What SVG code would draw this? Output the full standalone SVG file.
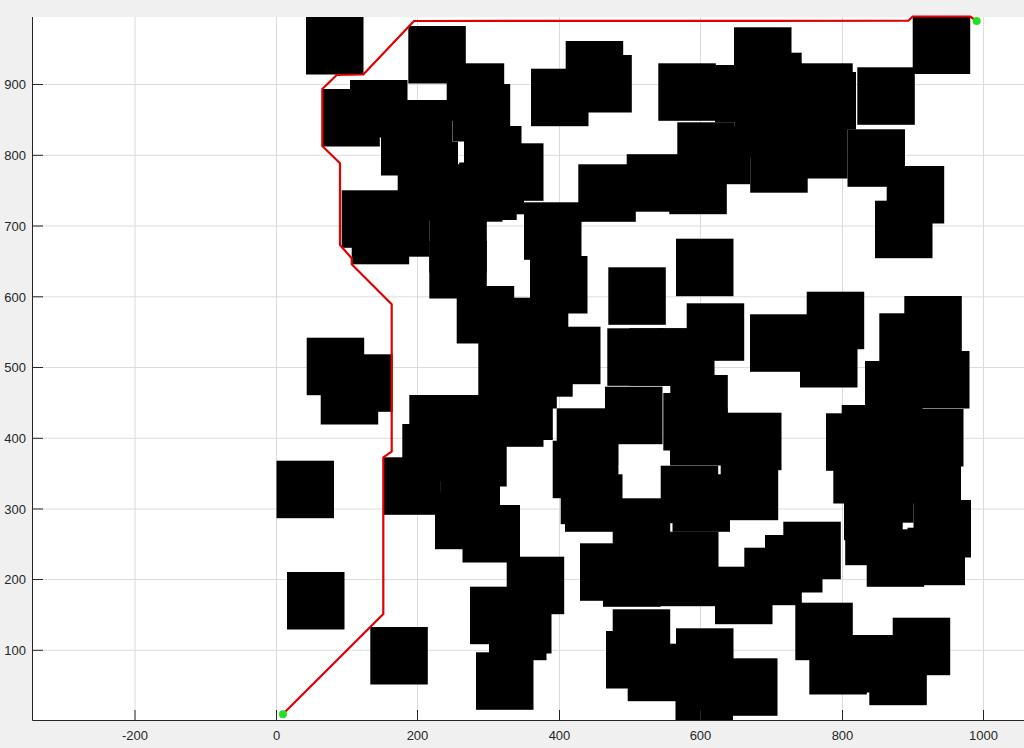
<svg xmlns="http://www.w3.org/2000/svg" width="1024" height="748" viewBox="0 0 1024 748">
<style>
.bg{fill:#f0f0f0}
.ax{fill:#ffffff}
.grid line{stroke:#dcdcdc;stroke-width:1}
.o rect{fill:#000000}
.tk line{stroke:#262626;stroke-width:1}
.lbl{font-family:"Liberation Sans",Arial,sans-serif;font-size:13px;fill:#262626}
.path{fill:none;stroke:#e00000;stroke-width:2.2;stroke-linejoin:round}
.pt{fill:#22e022}
</style>
<rect class="bg" x="0" y="0" width="1024" height="748"/>
<rect class="ax" x="33" y="17" width="991" height="703.5"/>
<g class="grid" id="grid">
<line x1="135" y1="17" x2="135" y2="720"/>
<line x1="276.5" y1="17" x2="276.5" y2="720"/>
<line x1="417.5" y1="17" x2="417.5" y2="720"/>
<line x1="559.5" y1="17" x2="559.5" y2="720"/>
<line x1="700.5" y1="17" x2="700.5" y2="720"/>
<line x1="842.5" y1="17" x2="842.5" y2="720"/>
<line x1="983.5" y1="17" x2="983.5" y2="720"/>
<line x1="33" y1="650.3" x2="1024" y2="650.3"/>
<line x1="33" y1="579.5" x2="1024" y2="579.5"/>
<line x1="33" y1="509" x2="1024" y2="509"/>
<line x1="33" y1="438.3" x2="1024" y2="438.3"/>
<line x1="33" y1="367.5" x2="1024" y2="367.5"/>
<line x1="33" y1="296.8" x2="1024" y2="296.8"/>
<line x1="33" y1="226" x2="1024" y2="226"/>
<line x1="33" y1="155.3" x2="1024" y2="155.3"/>
<line x1="33" y1="84.5" x2="1024" y2="84.5"/>
</g>
<g class="o" id="obstacles">
<rect x="306" y="17" width="57.5" height="57.5"/>
<rect x="408.3" y="26" width="57.5" height="57.5"/>
<rect x="350" y="80" width="57.5" height="57.5"/>
<rect x="322.3" y="89" width="57.5" height="57.5"/>
<rect x="446.7" y="63.3" width="57.5" height="57.5"/>
<rect x="452.7" y="84" width="57.5" height="57.5"/>
<rect x="464" y="126" width="57.5" height="57.5"/>
<rect x="486" y="143.3" width="57.5" height="57.5"/>
<rect x="395" y="100" width="57.5" height="57.5"/>
<rect x="381" y="118" width="57.5" height="57.5"/>
<rect x="400.5" y="141.7" width="57.5" height="57.5"/>
<rect x="397.7" y="163" width="57.5" height="57.5"/>
<rect x="445" y="164.2" width="57.5" height="57.5"/>
<rect x="459.2" y="162.5" width="57.5" height="57.5"/>
<rect x="466.5" y="156.8" width="57.5" height="57.5"/>
<rect x="341.7" y="190.3" width="57.5" height="57.5"/>
<rect x="351.7" y="206.8" width="57.5" height="57.5"/>
<rect x="371.8" y="199.2" width="57.5" height="57.5"/>
<rect x="429.3" y="215" width="57.5" height="57.5"/>
<rect x="429.3" y="241" width="57.5" height="57.5"/>
<rect x="524" y="202.3" width="57.5" height="57.5"/>
<rect x="530" y="256" width="57.5" height="57.5"/>
<rect x="456.7" y="286" width="57.5" height="57.5"/>
<rect x="510.8" y="297.7" width="57.5" height="57.5"/>
<rect x="478.3" y="337.7" width="57.5" height="57.5"/>
<rect x="515.2" y="339.2" width="57.5" height="57.5"/>
<rect x="499.3" y="351" width="57.5" height="57.5"/>
<rect x="495.3" y="382.5" width="57.5" height="57.5"/>
<rect x="486" y="389.3" width="57.5" height="57.5"/>
<rect x="480" y="387" width="57.5" height="57.5"/>
<rect x="409.3" y="395" width="57.5" height="57.5"/>
<rect x="422.5" y="395" width="57.5" height="57.5"/>
<rect x="449.2" y="429" width="57.5" height="57.5"/>
<rect x="402.3" y="424" width="57.5" height="57.5"/>
<rect x="383.3" y="457.3" width="57.5" height="57.5"/>
<rect x="440.5" y="447.5" width="59.5" height="57.5"/>
<rect x="435" y="491.7" width="57.5" height="57.5"/>
<rect x="462.5" y="505" width="57.5" height="57.5"/>
<rect x="506.7" y="556.7" width="57.5" height="57.5"/>
<rect x="470" y="586.7" width="57.5" height="57.5"/>
<rect x="494" y="596" width="57.5" height="57.5"/>
<rect x="489" y="602.7" width="57.5" height="57.5"/>
<rect x="476" y="652.3" width="57.5" height="57.5"/>
<rect x="276.5" y="460.7" width="57.5" height="57.5"/>
<rect x="287" y="572" width="57.5" height="57.5"/>
<rect x="370.3" y="627" width="57.5" height="57.5"/>
<rect x="306.7" y="337.7" width="57.5" height="57.5"/>
<rect x="320.7" y="367" width="57.5" height="57.5"/>
<rect x="335.2" y="354.3" width="57.5" height="57.5"/>
<rect x="565.7" y="41" width="57.5" height="57.5"/>
<rect x="531" y="68.7" width="57.5" height="57.5"/>
<rect x="574.3" y="55" width="57.5" height="57.5"/>
<rect x="658.3" y="63.3" width="57.5" height="57.5"/>
<rect x="715" y="65" width="57.5" height="57.5"/>
<rect x="734" y="27.3" width="57.5" height="57.5"/>
<rect x="744.2" y="52.7" width="57.5" height="57.5"/>
<rect x="735" y="100" width="57.5" height="57.5"/>
<rect x="760" y="80" width="57.5" height="57.5"/>
<rect x="795.2" y="63.3" width="57.5" height="57.5"/>
<rect x="798.5" y="72" width="57.5" height="57.5"/>
<rect x="857.3" y="67.3" width="57.5" height="57.5"/>
<rect x="912.7" y="16.5" width="57.5" height="57.5"/>
<rect x="847.5" y="129.3" width="57.5" height="57.5"/>
<rect x="886.7" y="166" width="57.5" height="57.5"/>
<rect x="875" y="200.7" width="57.5" height="57.5"/>
<rect x="790" y="121" width="57.5" height="57.5"/>
<rect x="750.2" y="135.2" width="57.5" height="57.5"/>
<rect x="692.5" y="126.7" width="57.5" height="57.5"/>
<rect x="677.3" y="122.3" width="57.5" height="57.5"/>
<rect x="669.3" y="156.7" width="57.5" height="57.5"/>
<rect x="626.7" y="154.2" width="57.5" height="57.5"/>
<rect x="578.3" y="164.3" width="57.5" height="57.5"/>
<rect x="608.3" y="267.3" width="57.5" height="57.5"/>
<rect x="676" y="238.7" width="57.5" height="57.5"/>
<rect x="686.7" y="303.3" width="57.5" height="57.5"/>
<rect x="750" y="314.3" width="57.5" height="57.5"/>
<rect x="543" y="326.7" width="57.5" height="57.5"/>
<rect x="607.3" y="328.3" width="57.5" height="57.5"/>
<rect x="629.3" y="328.3" width="57.5" height="57.5"/>
<rect x="657" y="328.3" width="57.5" height="57.5"/>
<rect x="670.3" y="375" width="57.5" height="57.5"/>
<rect x="605" y="386.7" width="57.5" height="57.5"/>
<rect x="556.7" y="408.3" width="61.6" height="57.5"/>
<rect x="560.8" y="417.5" width="57.5" height="57.5"/>
<rect x="663.3" y="393" width="57.5" height="57.5"/>
<rect x="670" y="408" width="57.5" height="57.5"/>
<rect x="724" y="412.7" width="57.5" height="57.5"/>
<rect x="720.7" y="462.7" width="57.5" height="57.5"/>
<rect x="552.7" y="440.7" width="57.5" height="57.5"/>
<rect x="560.7" y="466.7" width="57.5" height="57.5"/>
<rect x="565" y="474.3" width="57.5" height="57.5"/>
<rect x="612.7" y="498.3" width="57.5" height="57.5"/>
<rect x="672.5" y="474.3" width="57.5" height="57.5"/>
<rect x="660.7" y="465.7" width="57.5" height="57.5"/>
<rect x="661" y="531.7" width="57.5" height="57.5"/>
<rect x="580" y="543.3" width="57.5" height="57.5"/>
<rect x="603" y="549.3" width="57.5" height="57.5"/>
<rect x="657.5" y="548.7" width="57.5" height="57.5"/>
<rect x="715" y="566.7" width="57.5" height="57.5"/>
<rect x="765" y="535" width="57.5" height="57.5"/>
<rect x="744.3" y="547.7" width="57.5" height="57.5"/>
<rect x="783.3" y="521.7" width="57.5" height="57.5"/>
<rect x="612.7" y="609.3" width="57.5" height="57.5"/>
<rect x="606" y="631" width="57.5" height="57.5"/>
<rect x="627.7" y="643.7" width="57.5" height="57.5"/>
<rect x="676" y="628.3" width="57.5" height="57.5"/>
<rect x="675.5" y="662.5" width="57.5" height="57.5"/>
<rect x="720" y="658.3" width="57.5" height="57.5"/>
<rect x="806.7" y="291.7" width="57.5" height="57.5"/>
<rect x="800" y="330" width="57.5" height="57.5"/>
<rect x="904.3" y="296" width="57.5" height="57.5"/>
<rect x="879.3" y="313.3" width="57.5" height="57.5"/>
<rect x="912" y="351" width="57.5" height="57.5"/>
<rect x="865" y="361" width="57.5" height="57.5"/>
<rect x="841.7" y="405" width="57.5" height="57.5"/>
<rect x="826" y="413.3" width="57.5" height="57.5"/>
<rect x="833.3" y="446" width="57.5" height="57.5"/>
<rect x="880" y="415" width="57.5" height="57.5"/>
<rect x="906" y="409" width="57.5" height="57.5"/>
<rect x="903.5" y="446" width="57.5" height="57.5"/>
<rect x="856" y="465.2" width="57.5" height="57.5"/>
<rect x="844" y="482.7" width="57.5" height="57.5"/>
<rect x="845.2" y="507.7" width="57.5" height="57.5"/>
<rect x="866.7" y="529.3" width="57.5" height="57.5"/>
<rect x="907.5" y="527.7" width="57.5" height="57.5"/>
<rect x="913.5" y="500" width="57.5" height="57.5"/>
<rect x="795.3" y="602.7" width="57.5" height="57.5"/>
<rect x="809.3" y="637" width="57.5" height="57.5"/>
<rect x="836" y="635" width="57.5" height="57.5"/>
<rect x="892.7" y="617.7" width="57.5" height="57.5"/>
<rect x="869.3" y="647.7" width="57.5" height="57.5"/>
</g>
<g class="tk" id="axes">
<line x1="32.5" y1="17" x2="32.5" y2="720.5"/>
<line x1="32.5" y1="720.5" x2="1024" y2="720.5"/>
<line x1="33" y1="650.3" x2="43" y2="650.3"/>
<line x1="33" y1="579.5" x2="43" y2="579.5"/>
<line x1="33" y1="509" x2="43" y2="509"/>
<line x1="33" y1="438.3" x2="43" y2="438.3"/>
<line x1="33" y1="367.5" x2="43" y2="367.5"/>
<line x1="33" y1="296.8" x2="43" y2="296.8"/>
<line x1="33" y1="226" x2="43" y2="226"/>
<line x1="33" y1="155.3" x2="43" y2="155.3"/>
<line x1="33" y1="84.5" x2="43" y2="84.5"/>
<line x1="135" y1="720" x2="135" y2="710"/>
<line x1="276.5" y1="720" x2="276.5" y2="710"/>
<line x1="417.5" y1="720" x2="417.5" y2="710"/>
<line x1="559.5" y1="720" x2="559.5" y2="710"/>
<line x1="700.5" y1="720" x2="700.5" y2="710"/>
<line x1="842.5" y1="720" x2="842.5" y2="710"/>
<line x1="983.5" y1="720" x2="983.5" y2="710"/>
</g>
<g class="lbl" id="ylabels" text-anchor="end">
<text x="26" y="655">100</text>
<text x="26" y="584">200</text>
<text x="26" y="513.5">300</text>
<text x="26" y="443">400</text>
<text x="26" y="372">500</text>
<text x="26" y="301.5">600</text>
<text x="26" y="230.5">700</text>
<text x="26" y="160">800</text>
<text x="26" y="89">900</text>
</g>
<g class="lbl" id="xlabels" text-anchor="middle">
<text x="135" y="740">-200</text>
<text x="276.5" y="740">0</text>
<text x="417.5" y="740">200</text>
<text x="559.5" y="740">400</text>
<text x="700.5" y="740">600</text>
<text x="842.5" y="740">800</text>
<text x="983.5" y="740">1000</text>
</g>
<g id="connectors">
<polyline class="path" points="283,714 383.3,614 383.3,457.3 391.7,451.7 391.7,304.3 351.7,264.3 351.7,258.3 340,245 340,163.3 322.3,146 322.3,89 336.7,75 363.3,74.5 414,21 908.3,20.7 912.7,16.5 970,16.5 976.7,21"/>
</g>
<g id="start"><circle class="pt" cx="283" cy="714.3" r="4"/></g>
<g id="goal"><circle class="pt" cx="976.7" cy="21" r="4"/></g>
</svg>
